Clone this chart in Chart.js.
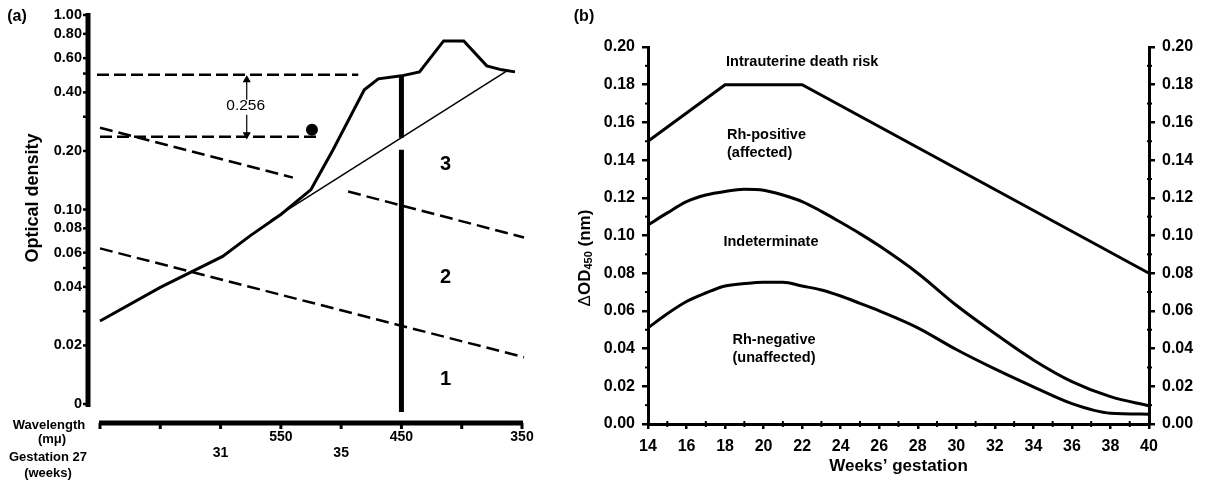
<!DOCTYPE html>
<html><head><meta charset="utf-8">
<script src="https://cdn.jsdelivr.net/npm/chart.js@4"></script>
<style>
html,body{margin:0;padding:0;background:#fff;width:1206px;height:480px;overflow:hidden}
#a{position:absolute;left:0;top:0}
#b{position:absolute;left:560px;top:0}
</style></head><body>
<canvas id="a" width="560" height="480"></canvas>
<canvas id="b" width="646" height="480"></canvas>
<script>
// ---------- panel (a) data ----------
const wlTicks=[700,650,600,550,500,450,400,350];
const wlTickLabels=['','','','550','','450','','350'];
const gestTickLabels=['','','31','','35','','',''];
const odTicks=[1,0.8,0.6,0.4,0.2,0.1,0.08,0.06,0.04,0.02,0.01];
const odTickLabels=['1.00','0.80','0.60','0.40','0.20','0.10','0.08','0.06','0.04','0.02','0'];
const odMinorTicks=[0.5,0.3,0.05,0.03];
const spectrumWl=[700,650,598.3,575,550,525,506.7,480.8,469.2,450,435,415,398.3,379.2,366.7,355.8];
const spectrumOd=[0.0267,0.0398,0.0574,0.0736,0.0943,0.1266,0.203,0.4124,0.4697,0.4866,0.5101,0.7356,0.7356,0.5475,0.5224,0.5101];
const baselineWl=[558.3,362.5];
const baselineOd=[0.0878,0.5162];
const zone32Wl=[700,540,517,494.2,348.3];
const zone32Od=[0.2634,0.1459,null,0.1237,0.0718];
const zone21Wl=[700,348.3];
const zone21Od=[0.0631,0.0174];
const peakRefWl=[702.5,485.8];
const peakRefOd=[0.4923,0.4923];
const baseRefWl=[700,519.2];
const baseRefOd=[0.2368,0.2368];
const line450Wl=[450,450,450,450,450];
const line450Od=[0.4866,0.234,null,0.2028,0.0091];
const dotWl=[524.2];
const dotOd=[0.2572];
const arrowUpWl=[578.3,578.3];
const arrowUpOd=[0.4642,0.3664];
const arrowDownWl=[578.3,578.3];
const arrowDownOd=[0.307,0.2424];
const deltaText='0.256';
const deltaWl=579.2, deltaOd=0.3415;
const zoneLabels=['3','2','1'];
const zoneLabelWl=[413.3,413.3,413.3];
const zoneLabelOd=[0.170,0.0448,0.01343];

// ---------- panel (b) data ----------
const weekTicks=[14,16,18,20,22,24,26,28,30,32,34,36,38,40];
const weekMinor=[15,17,19,21,23,25,27,29,31,33,35,37,39];
const odbMinor=[0.01,0.03,0.05,0.07,0.09,0.11,0.13,0.15,0.17,0.19];
const deathWeeks=[14,18,22,40];
const deathOd=[0.150,0.180,0.180,0.080];
const curveWeeks=[14,15,16,17,18,19,20,21,22,23,24,25,26,28,30,32,34,36,38,40];
const upperOd=[0.1056,0.112,0.118,0.1215,0.1234,0.1245,0.124,0.1215,0.118,0.1128,0.107,0.101,0.0945,0.080,0.063,0.048,0.034,0.0225,0.0145,0.0097];
const lowerOd=[0.051,0.0585,0.065,0.0695,0.0732,0.0745,0.0752,0.0752,0.0732,0.0711,0.0679,0.064,0.060,0.051,0.0395,0.0292,0.0197,0.0108,0.0057,0.0052];
const zoneTexts=['Intrauterine death risk','Rh-positive','(affected)','Indeterminate','Rh-negative','(unaffected)'];
const zoneTextWeek=[22,18.1,18.1,20.38,20.54,20.54];
const zoneTextOd=[0.192,0.1533,0.1438,0.0966,0.0446,0.035];
const zoneTextAlign=['center','left','left','center','center','center'];

const FF="'Liberation Sans', Arial, Helvetica, sans-serif";
Chart.defaults.font.family=FF;
Chart.defaults.color='#000';

function pts(xs,ys){return xs.map((x,i)=>({x:x,y:ys[i]}));}
function ds(xs,ys,extra){return Object.assign({data:pts(xs,ys),borderColor:'#000',backgroundColor:'#000',pointRadius:0,borderWidth:2,tension:0,clip:false,fill:false},extra||{});}

function line(ctx,x1,y1,x2,y2){ctx.beginPath();ctx.moveTo(x1,y1);ctx.lineTo(x2,y2);ctx.stroke();}

const leftDecor={
  id:'leftDecor',
  afterDraw(chart){
    const {ctx,chartArea:ca,scales:{x,y}}=chart;
    ctx.save();
    ctx.strokeStyle='#000';ctx.fillStyle='#000';ctx.lineCap='butt';
    // y axis line
    const ax=ca.left-12;
    ctx.lineWidth=5;
    line(ctx,ax,y.getPixelForValue(1)-2,ax,y.getPixelForValue(0.01)+3);
    ctx.lineWidth=2.5;
    odTicks.concat(odMinorTicks).forEach(v=>{const py=y.getPixelForValue(v);line(ctx,ax-5,py,ax,py);});
    // x axis line
    const ay=ca.bottom+19;
    ctx.lineWidth=5;
    line(ctx,x.getPixelForValue(700)-1,ay,x.getPixelForValue(350)+1,ay);
    ctx.lineWidth=3;
    wlTicks.forEach(v=>{const px=x.getPixelForValue(v);line(ctx,px,ay,px,ay+6);});
    // texts
    ctx.textAlign='center';ctx.textBaseline='middle';
    ctx.font='bold 16px '+FF;
    ctx.fillText('(a)',17,17);
    ctx.font='bold 13px '+FF;
    ctx.fillText('Wavelength',49,425);
    ctx.fillText('(m\u03bc)',52,439);
    ctx.fillText('Gestation 27',48,457);
    ctx.fillText('(weeks)',48,473);
    ctx.save();
    ctx.translate(33,198);ctx.rotate(-Math.PI/2);
    ctx.font='bold 18px '+FF;
    ctx.fillText('Optical density',0,0);
    ctx.restore();
    ctx.font='bold 20px '+FF;
    zoneLabels.forEach((t,i)=>ctx.fillText(t,x.getPixelForValue(zoneLabelWl[i]),y.getPixelForValue(zoneLabelOd[i])));
    ctx.font='15.5px '+FF;
    ctx.fillText(deltaText,x.getPixelForValue(deltaWl),y.getPixelForValue(deltaOd));
    ctx.restore();
  }
};

new Chart(document.getElementById('a'),{
  type:'line',
  data:{datasets:[
    ds(spectrumWl,spectrumOd,{borderWidth:3}),
    ds(baselineWl,baselineOd,{borderWidth:1.5}),
    ds(zone32Wl,zone32Od,{borderWidth:2.5,borderDash:[13,6]}),
    ds(zone21Wl,zone21Od,{borderWidth:2.5,borderDash:[13,6]}),
    ds(peakRefWl,peakRefOd,{borderWidth:2.5,borderDash:[12,5]}),
    ds(baseRefWl,baseRefOd,{borderWidth:2.5,borderDash:[12,5]}),
    ds(line450Wl,line450Od,{borderWidth:5}),
    ds(dotWl,dotOd,{showLine:false,pointRadius:5,pointBackgroundColor:'#000'}),
    ds(arrowUpWl,arrowUpOd,{borderWidth:1.2,pointStyle:'triangle',pointRadius:[3.5,0],rotation:0,pointBackgroundColor:'#000'}),
    ds(arrowDownWl,arrowDownOd,{borderWidth:1.2,pointStyle:'triangle',pointRadius:[0,3.5],rotation:180,pointBackgroundColor:'#000'})
  ]},
  options:{
    responsive:false,animation:false,devicePixelRatio:1,
    layout:{padding:{top:15,right:38,left:0,bottom:0}},
    plugins:{legend:{display:false},tooltip:{enabled:false}},
    scales:{
      x:{type:'linear',reverse:true,min:350,max:700,
        afterFit:s=>{s.height=76;s.paddingLeft=0;s.paddingRight=0;},
        afterBuildTicks:s=>{s.ticks=wlTicks.map(v=>({value:v}));},
        ticks:{autoSkip:false,maxRotation:0,padding:25,color:'#000',font:{size:14,weight:'bold',lineHeight:1.15},
          callback:(v,i)=>[wlTickLabels[i],gestTickLabels[i]]},
        grid:{display:false,drawTicks:false},border:{display:false}},
      y:{type:'logarithmic',min:0.01,max:1,
        afterFit:s=>{s.width=100;s.paddingTop=0;s.paddingBottom=0;},
        afterBuildTicks:s=>{s.ticks=odTicks.map(v=>({value:v}));},
        ticks:{autoSkip:false,padding:18,color:'#000',font:{size:14.5,weight:'bold'},
          callback:(v,i)=>odTickLabels[i]},
        grid:{display:false,drawTicks:false},border:{display:false}}
    }
  },
  plugins:[leftDecor]
});

const rightDecor={
  id:'rightDecor',
  afterDraw(chart){
    const {ctx,chartArea:ca,scales:{x,y}}=chart;
    ctx.save();
    ctx.strokeStyle='#000';ctx.fillStyle='#000';ctx.lineWidth=2;
    odbMinor.forEach(v=>{const py=y.getPixelForValue(v);line(ctx,ca.left-3,py,ca.left+2,py);line(ctx,ca.right-2,py,ca.right+3,py);});
    weekMinor.forEach(v=>{const px=x.getPixelForValue(v);line(ctx,px,ca.bottom-3,px,ca.bottom+3);});
    ctx.textBaseline='middle';
    ctx.font='bold 14.5px '+FF;
    zoneTexts.forEach((t,i)=>{ctx.textAlign=zoneTextAlign[i];ctx.fillText(t,x.getPixelForValue(zoneTextWeek[i]),y.getPixelForValue(zoneTextOd[i]));});
    ctx.textAlign='center';
    ctx.font='bold 16px '+FF;
    ctx.fillText('(b)',24,17);
    // y title: ΔOD450 (nm)
    ctx.save();
    ctx.translate(25,258);ctx.rotate(-Math.PI/2);
    ctx.textAlign='left';
    const parts=[['\u0394','17px '+FF,0],['OD','bold 17px '+FF,0],['450','bold 11px '+FF,4],[' (nm)','bold 17px '+FF,0]];
    let tw=0;parts.forEach(p=>{ctx.font=p[1];tw+=ctx.measureText(p[0]).width;});
    let cx=-tw/2;
    parts.forEach(p=>{ctx.font=p[1];ctx.fillText(p[0],cx,p[2]);cx+=ctx.measureText(p[0]).width;});
    ctx.restore();
    ctx.restore();
  }
};

const tickFont={size:16,weight:'bold'};
new Chart(document.getElementById('b'),{
  type:'line',
  data:{datasets:[
    ds(deathWeeks,deathOd,{borderWidth:3}),
    ds(curveWeeks,upperOd,{borderWidth:3,cubicInterpolationMode:'monotone'}),
    ds(curveWeeks,lowerOd,{borderWidth:3,cubicInterpolationMode:'monotone'})
  ]},
  options:{
    responsive:false,animation:false,devicePixelRatio:1,
    layout:{padding:{top:47,right:0,left:0,bottom:0}},
    plugins:{legend:{display:false},tooltip:{enabled:false}},
    scales:{
      x:{type:'linear',min:14,max:40,
        afterFit:s=>{s.height=56;},
        afterBuildTicks:s=>{s.ticks=weekTicks.map(v=>({value:v}));},
        ticks:{autoSkip:false,maxRotation:0,padding:8,color:'#000',font:tickFont},
        grid:{drawOnChartArea:false,drawTicks:true,tickLength:5,lineWidth:2.5,color:'#000'},
        border:{display:true,width:3,color:'#000'},
        title:{display:true,text:'Weeks\u2019 gestation',color:'#000',font:{size:17,weight:'bold'},padding:{top:0,bottom:3}}},
      y:{type:'linear',position:'left',min:0,max:0.2,
        afterFit:s=>{s.width=88;},
        ticks:{stepSize:0.02,padding:7,color:'#000',font:tickFont,callback:v=>v.toFixed(2)},
        grid:{drawOnChartArea:false,drawTicks:true,tickLength:6,lineWidth:2.5,color:'#000'},
        border:{display:true,width:3,color:'#000'}},
      y2:{type:'linear',position:'right',min:0,max:0.2,
        afterFit:s=>{s.width=57;},
        ticks:{stepSize:0.02,padding:7,color:'#000',font:tickFont,callback:v=>v.toFixed(2)},
        grid:{drawOnChartArea:false,drawTicks:true,tickLength:6,lineWidth:2.5,color:'#000'},
        border:{display:true,width:3,color:'#000'}}
    }
  },
  plugins:[rightDecor]
});
</script>
</body></html>
